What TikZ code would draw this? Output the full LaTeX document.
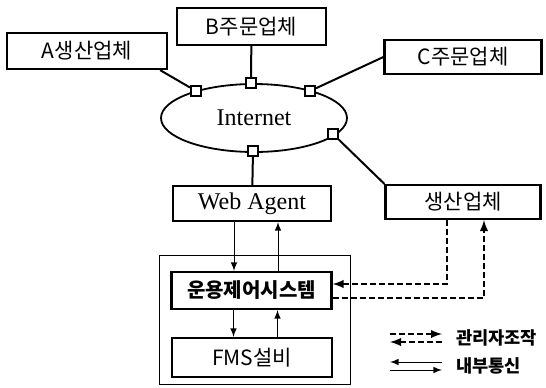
\documentclass[tikz,border=0pt]{standalone}
\usepackage{fontspec}
\setmainfont{Liberation Serif}
\newfontfamily\kor{Noto Sans CJK KR}
\usetikzlibrary{shapes.geometric}
\newcommand{\port}[2]{\node[port] (#1) at (#2) {};}

\begin{document}
\begin{tikzpicture}[x=0.5pt,y=-0.5pt,>=latex,line width=1pt,
    box/.style={draw,line width=1.1pt,inner sep=0pt,font=\kor\fontsize{10.5}{12}\selectfont},
    port/.style={draw,fill=white,inner sep=0pt,minimum size=5pt,line width=0.9pt},
    msg/.style={->,line width=0.5pt},
    ctl/.style={->,line width=0.9pt,dash pattern=on 3pt off 1.5pt},
    legend/.style={anchor=west,inner sep=0pt,font=\kor\bfseries\fontsize{8.8}{10}\selectfont}]
  \useasboundingbox (0,0) rectangle (546,387);
  % companies around the net
  \node[box,minimum width=80pt,minimum height=18pt] (A) at (87,51) {A생산업체};
  \node[box,minimum width=74.5pt,minimum height=18.5pt] (B) at (251.5,26.5) {B주문업체};
  \node[box,minimum width=78.5pt,minimum height=17pt] (C) at (463,57) {C주문업체};
  \node[draw,ellipse,line width=0.9pt,minimum width=93pt,minimum height=34pt,
        font=\fontsize{12}{14}\selectfont] (net) at (254,118) {Internet};
  \node[box,minimum width=79pt,minimum height=17.5pt,font=\fontsize{12}{14}\selectfont] (web) at (252,203.5) {Web Agent};
  \node[box,minimum width=77.5pt,minimum height=17pt] (prod) at (463,202) {생산업체};
  % the plant
  \draw[line width=0.5pt] (159,255) rectangle (350,384);
  \node[box,minimum width=80pt,minimum height=18.5pt,font=\kor\bfseries\fontsize{10}{12}\selectfont] (ops) at (251.5,290.5) {운용제어시스템};
  \node[box,minimum width=80pt,minimum height=19.5pt] (fms) at (252,357.5) {FMS설비};
  % ports on the net
  \port{pA}{196,91}
  \port{pB}{251,83}
  \port{pC}{310,91}
  \port{pP}{333,134}
  \port{pW}{253,151}
  \draw ([xshift=-4pt]A.south east) -- (pA);
  \draw (B) -- (pB);
  \draw (C.west) -- (pC);
  \draw (pP) -- (prod.north west);
  \draw (pW) -- (web);
  % internal messages
  \draw[msg] ([xshift=-9pt]web.south) -- ([xshift=-9pt]web.south |- ops.north);
  \draw[msg] ([xshift=13pt]web.south |- ops.north) -- ([xshift=13pt]web.south);
  \draw[msg] ([xshift=-9pt]ops.south) -- ([xshift=-9pt]ops.south |- fms.north);
  \draw[msg] ([xshift=13pt]ops.south |- fms.north) -- ([xshift=13pt]ops.south);
  % operator control
  \draw[ctl] ([xshift=-8pt]prod.south) |- ([yshift=3.25pt]ops.east);
  \draw[ctl] ([yshift=-3.75pt]ops.east) -| ([xshift=10.5pt]prod.south);
  % legend
  \coordinate (k1) at (390,334);
  \coordinate (k2) at (442,334);
  \coordinate (k3) at (390,342);
  \coordinate (k4) at (442,342);
  \coordinate (k5) at (390,362);
  \coordinate (k6) at (442,362);
  \coordinate (k7) at (390,370);
  \coordinate (k8) at (442,370);
  \draw[ctl] (k1) -- (k2);
  \draw[ctl] (k4) -- (k3);
  \draw[msg] (k6) -- (k5);
  \draw[msg] (k7) -- (k8);
  \node[legend] (l1) at (455,338) {관리자조작};
  \node[legend] (l2) at (455,366) {내부통신};
\end{tikzpicture}
\end{document}
